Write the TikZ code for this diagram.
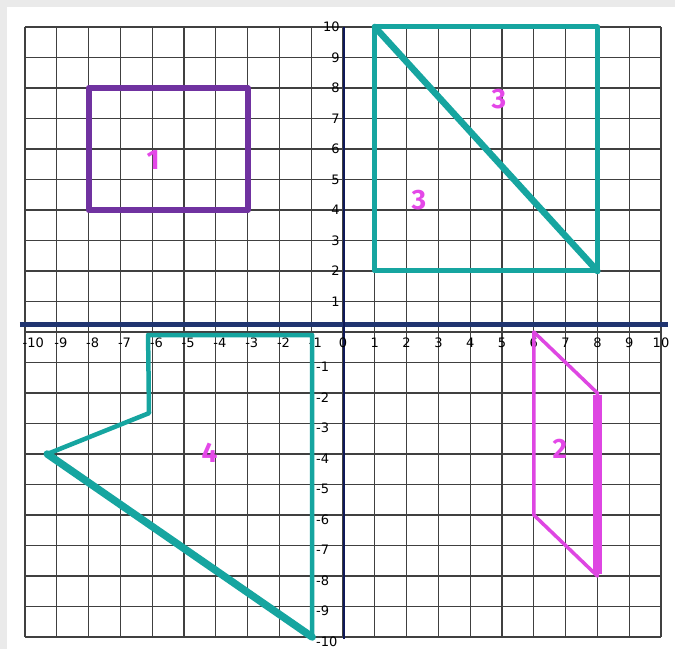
\documentclass[tikz,border=0pt]{standalone}
\usepackage{fontspec}
\setmainfont{DejaVu Sans}
\newfontfamily\markfont{Fira Sans}
\usepackage{tikz}
\definecolor{tealline}{RGB}{22,165,160}
\definecolor{purpline}{RGB}{112,50,160}
\definecolor{magline}{RGB}{222,70,226}
\definecolor{maglab}{RGB}{228,72,232}
\definecolor{axisblue}{RGB}{32,52,112}
\definecolor{yaxisblue}{RGB}{14,24,88}
\definecolor{panelgray}{RGB}{234,234,234}
\tikzset{gridline/.style={draw=black!75, line width=1.1pt}}
\tikzset{shape edge/.style={line width=5pt, line join=round, line cap=round}}
\tikzset{axlab/.style={inner sep=0, font=\fontsize{13}{13}\selectfont}}
\tikzset{figlab/.style={inner sep=0, text=maglab, font=\markfont\bfseries\fontsize{28}{28}\selectfont}}

\begin{document}
\begin{tikzpicture}[x=31.8pt, y=30.5pt]
  \useasboundingbox (-10.786,-10.393) rectangle (10.44,10.885);
  \fill[panelgray] (-10.786,-10.393) rectangle (10.44,10.885);
  \fill[white] (-10.566,-10.393) rectangle (10.44,10.655);

  \foreach \g in {-10,...,10} {
    \draw[gridline] (\g,-10) -- (\g,10);
    \draw[gridline] (-10,\g) -- (10,\g);
  }

  % axes
  \draw[axisblue, line width=5pt] (-10.16,0.23) -- (10.22,0.23);
  \draw[yaxisblue, line width=2.5pt] (0.03,-10.05) -- (0.03,10);

  \foreach \i [count=\k] in {-10,...,-1}
    \node[axlab, anchor=west] (xn\k) at (\i-0.08,-0.36) {\i};
  \foreach \i in {0,...,10}
    \node[axlab] (xp\i) at (\i,-0.36) {\i};
  \foreach \j in {1,...,10}
    \node[axlab, anchor=east] (yp\j) at (-0.1,\j) {\j};
  \foreach \j [count=\k] in {-1,...,-10}
    \node[axlab, anchor=west] (yn\k) at (-0.85,\j-0.15) {\j};

  % figure 1
  \draw[shape edge, purpline, line width=6pt] (-8,4) rectangle (-3,8);
  \node[figlab] (one) at (-5.97,5.64) {1};

  % figure 2
  \draw[shape edge, magline, line width=3.5pt] (6,0) -- (8,-2) -- (8,-8) -- (6,-6) -- cycle;
  \draw[magline, line width=9pt] (8,-2.05) -- (8,-7.95);
  \node[figlab] (two) at (6.82,-3.84) {2};

  % figure 3
  \draw[shape edge, tealline] (1,2) rectangle (8,10);
  \draw[shape edge, tealline, line width=6.5pt] (1,10) -- (8,2);
  \node[figlab] (threeA) at (4.9,7.64) {3};
  \node[figlab] (threeB) at (2.39,4.33) {3};

  % figure 4
  \draw[shape edge, tealline, line width=4.5pt] (-9.3,-4) -- (-6.1,-2.66) -- (-6.13,-0.1)
    -- (-0.97,-0.1) -- (-0.97,-10);
  \draw[shape edge, tealline, line width=7.5pt] (-0.97,-10) -- (-9.3,-4);
  \node[figlab] (four) at (-4.2,-3.95) {4};
\end{tikzpicture}
\end{document}
